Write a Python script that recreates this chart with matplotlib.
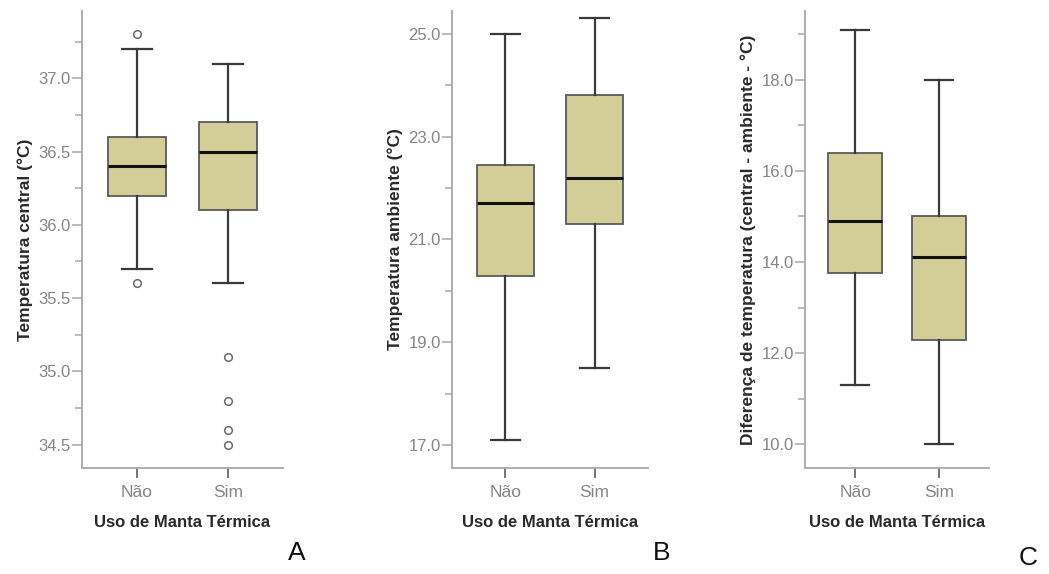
import matplotlib
matplotlib.use('Agg')
import matplotlib.pyplot as plt
from matplotlib.ticker import FixedLocator, FormatStrFormatter

plt.rcParams['font.family'] = ['Liberation Sans', 'DejaVu Sans']

groups = ['Não', 'Sim']

# A - temperatura central
a_med = [36.4, 36.5]
a_q1 = [36.2, 36.1]
a_q3 = [36.6, 36.7]
a_wlo = [35.7, 35.6]
a_whi = [37.2, 37.1]
a_fliers = [[37.3, 35.6], [35.1, 34.8, 34.6, 34.5]]

# B - temperatura ambiente
b_med = [21.7, 22.2]
b_q1 = [20.3, 21.3]
b_q3 = [22.45, 23.8]
b_wlo = [17.1, 18.5]
b_whi = [25.0, 25.3]
b_fliers = [[], []]

# C - diferenca
c_med = [14.9, 14.1]
c_q1 = [13.75, 12.3]
c_q3 = [16.4, 15.0]
c_wlo = [11.3, 10.0]
c_whi = [19.1, 18.0]
c_fliers = [[], []]

panels = [
    dict(med=a_med, q1=a_q1, q3=a_q3, wlo=a_wlo, whi=a_whi, fl=a_fliers,
         ylabel='Temperatura central (°C)', ylim=(34.34, 37.46),
         major=[34.5, 35.0, 35.5, 36.0, 36.5, 37.0],
         minor=[34.75, 35.25, 35.75, 36.25, 36.75, 37.25],
         pos=[82, 283], letter='A', lxy=(297, 553)),
    dict(med=b_med, q1=b_q1, q3=b_q3, wlo=b_wlo, whi=b_whi, fl=b_fliers,
         ylabel='Temperatura ambiente (°C)', ylim=(16.56, 25.44),
         major=[17, 19, 21, 23, 25], minor=[18, 20, 22, 24],
         pos=[452, 648], letter='B', lxy=(662, 553)),
    dict(med=c_med, q1=c_q1, q3=c_q3, wlo=c_wlo, whi=c_whi, fl=c_fliers,
         ylabel='Diferença de temperatura (central - ambiente - °C)', ylim=(9.48, 19.51),
         major=[10, 12, 14, 16, 18], minor=[11, 13, 15, 17, 19],
         pos=[805, 989], letter='C', lxy=(1028, 558)),
]

W, H = 1049, 574
fig = plt.figure(figsize=(W / 100, H / 100), dpi=100)

top_px, bot_px = 11, 468
grey = '#a8a8a8'
box_fill = '#d3ce98'

for p in panels:
    left = p['pos'][0] / W
    width = (p['pos'][1] - p['pos'][0]) / W
    ax = fig.add_axes([left, (H - bot_px) / H, width, (bot_px - top_px) / H])
    stats = []
    for i in range(2):
        stats.append(dict(med=p['med'][i], q1=p['q1'][i], q3=p['q3'][i],
                          whislo=p['wlo'][i], whishi=p['whi'][i],
                          fliers=p['fl'][i], label=groups[i]))
    ax.bxp(stats, positions=[1, 2], widths=0.64, patch_artist=True,
           capwidths=0.33,
           boxprops=dict(facecolor=box_fill, edgecolor='#5a5a5a', linewidth=1.3),
           whiskerprops=dict(color='#3a3a3a', linewidth=1.6),
           capprops=dict(color='#3a3a3a', linewidth=1.6),
           medianprops=dict(color='#111111', linewidth=2.2),
           flierprops=dict(marker='o', markerfacecolor='white',
                           markeredgecolor='#6a6a6a', markersize=5.5,
                           markeredgewidth=1.1))
    ax.set_xlim(0.4, 2.6)
    ax.set_ylim(*p['ylim'])
    ax.yaxis.set_major_locator(FixedLocator(p['major']))
    ax.yaxis.set_minor_locator(FixedLocator(p['minor']))
    ax.yaxis.set_major_formatter(FormatStrFormatter('%.1f'))
    for s in ['top', 'right']:
        ax.spines[s].set_visible(False)
    for s in ['left', 'bottom']:
        ax.spines[s].set_color(grey)
        ax.spines[s].set_linewidth(1.3)
    ax.tick_params(axis='y', which='major', length=7, width=1.1, color=grey,
                   labelsize=12, labelcolor='#858585', pad=1)
    ax.tick_params(axis='y', which='minor', length=5, width=1.1, color=grey)
    ax.tick_params(axis='x', length=7, width=1.3, color='#6a6a6a',
                   labelsize=12.5, labelcolor='#858585', pad=5)
    ax.set_ylabel(p['ylabel'], fontsize=12.5, fontweight='bold', color='#2a2a2a', labelpad=4)
    ax.set_xlabel('Uso de Manta Térmica', fontsize=12, fontweight='bold',
                  color='#2a2a2a', labelpad=11)
    fig.text(p['lxy'][0] / W, 1 - p['lxy'][1] / H, p['letter'], fontsize=19,
             ha='center', va='center', color='#111111')

fig.savefig('out.png', dpi=100)
